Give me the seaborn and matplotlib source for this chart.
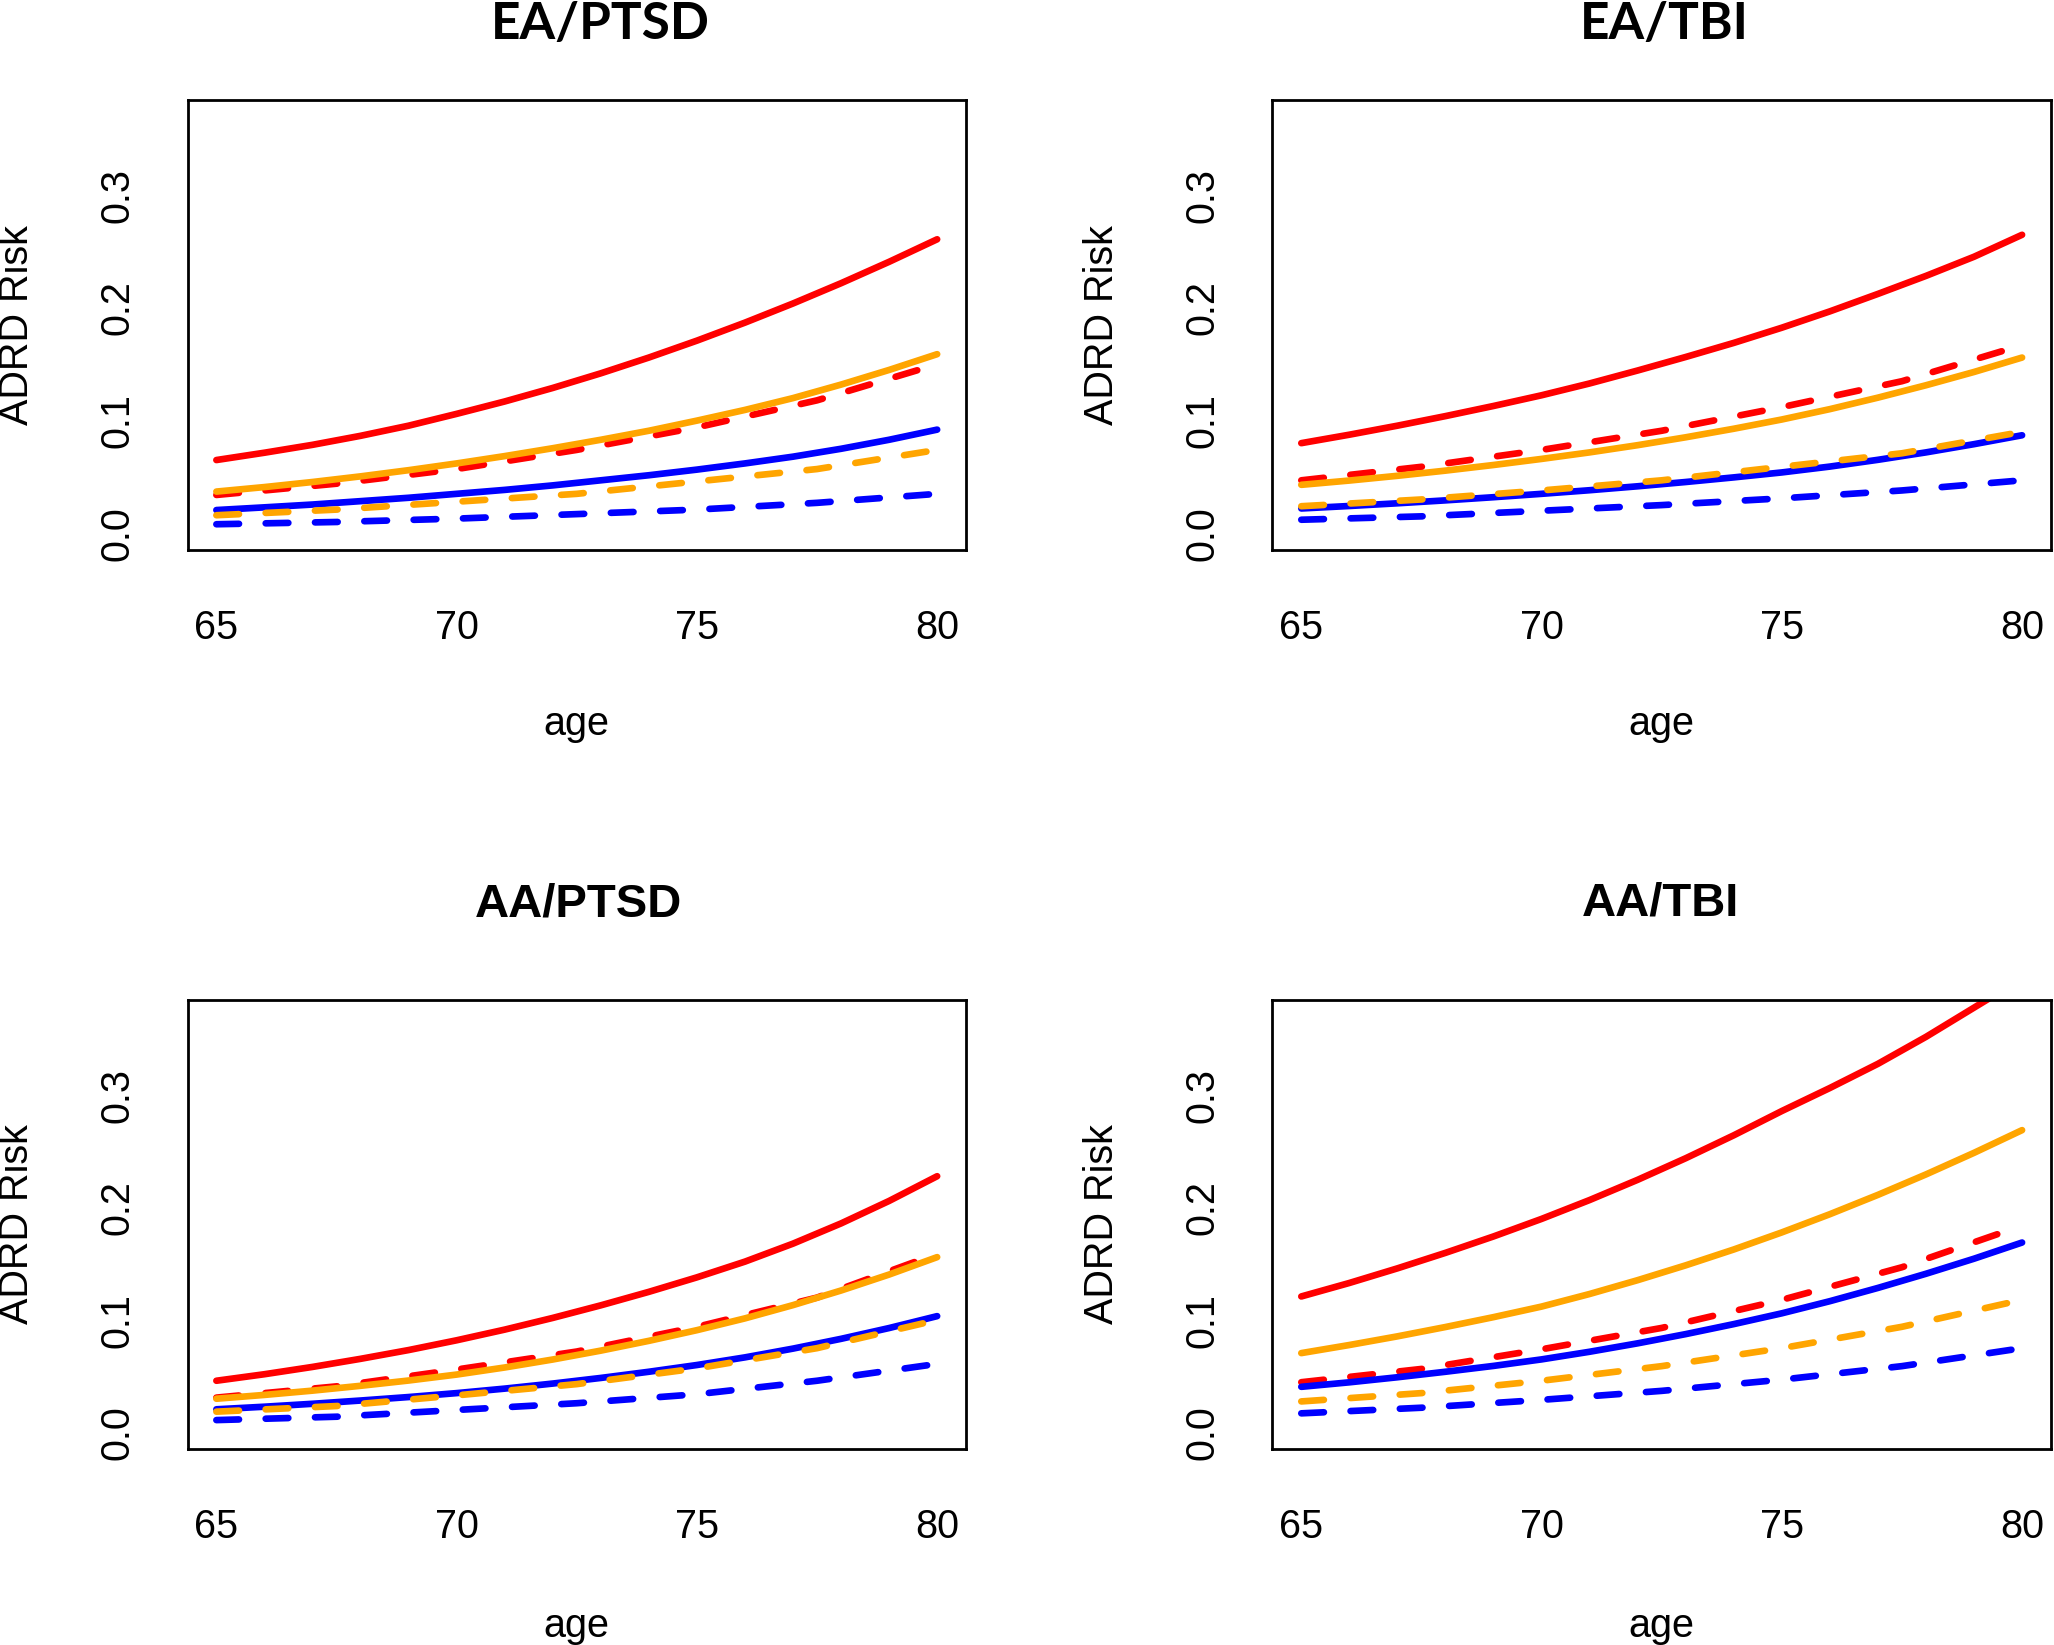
import matplotlib
matplotlib.use("Agg")
import matplotlib.pyplot as plt
import seaborn as sns

# solid curves were read every year, dashed ones every 2.5 years
AGES_YEARLY = list(range(65, 81))
AGES = [65, 67.5, 70, 72.5, 75, 77.5, 80]

# EA/PTSD
ea_ptsd_red = [0.065, 0.0715, 0.0785, 0.0865, 0.0955, 0.106, 0.117, 0.129, 0.142, 0.156,
               0.171, 0.187, 0.204, 0.222, 0.241, 0.261]
ea_ptsd_orange = [0.037, 0.041, 0.0455, 0.0505, 0.056, 0.062, 0.0685, 0.0755, 0.083, 0.091,
                  0.100, 0.1095, 0.120, 0.132, 0.145, 0.159]
ea_ptsd_blue = [0.0206, 0.023, 0.0255, 0.0285, 0.0315, 0.035, 0.0385, 0.0425, 0.047, 0.0515,
                0.0565, 0.062, 0.068, 0.075, 0.083, 0.092]
ea_ptsd_red_dash = [0.034, 0.044, 0.057, 0.074, 0.094, 0.118, 0.150]
ea_ptsd_orange_dash = [0.016, 0.021, 0.028, 0.035, 0.046, 0.057, 0.074]
ea_ptsd_blue_dash = [0.008, 0.010, 0.013, 0.017, 0.021, 0.027, 0.035]

# EA/TBI
ea_tbi_red = [0.080, 0.0875, 0.0955, 0.104, 0.113, 0.1225, 0.133, 0.1445, 0.1565, 0.169,
              0.1825, 0.197, 0.2125, 0.2285, 0.2455, 0.265]
ea_tbi_orange = [0.043, 0.0468, 0.051, 0.0556, 0.0606, 0.066, 0.0718, 0.0782, 0.0852, 0.0928,
                 0.101, 0.1102, 0.1204, 0.1314, 0.1432, 0.156]
ea_tbi_blue = [0.022, 0.0242, 0.0266, 0.0292, 0.032, 0.035, 0.0382, 0.0417, 0.0455, 0.0496,
               0.054, 0.0592, 0.0652, 0.0718, 0.0791, 0.087]
ea_tbi_red_dash = [0.047, 0.059, 0.074, 0.091, 0.112, 0.135, 0.167]
ea_tbi_orange_dash = [0.024, 0.030, 0.038, 0.047, 0.059, 0.071, 0.090]
ea_tbi_blue_dash = [0.012, 0.015, 0.020, 0.025, 0.031, 0.038, 0.047]

# AA/PTSD
aa_ptsd_red = [0.046, 0.0518, 0.0583, 0.0655, 0.0733, 0.082, 0.0915, 0.1019, 0.1131, 0.1251,
               0.138, 0.152, 0.168, 0.186, 0.206, 0.228]
aa_ptsd_orange = [0.030, 0.0334, 0.0372, 0.0415, 0.0462, 0.0515, 0.0578, 0.0649, 0.0728, 0.0815,
                  0.091, 0.1015, 0.1133, 0.1263, 0.1405, 0.156]
aa_ptsd_blue = [0.0206, 0.0229, 0.0255, 0.0284, 0.0315, 0.035, 0.039, 0.0435, 0.0485, 0.054,
                0.060, 0.0668, 0.0746, 0.0833, 0.0929, 0.1035]
aa_ptsd_red_dash = [0.031, 0.041, 0.056, 0.072, 0.094, 0.120, 0.159]
aa_ptsd_orange_dash = [0.0185, 0.0235, 0.033, 0.043, 0.057, 0.075, 0.100]
aa_ptsd_blue_dash = [0.011, 0.014, 0.020, 0.026, 0.034, 0.046, 0.061]

# AA/TBI (red solid runs off the top of the panel)
aa_tbi_red = [0.121, 0.133, 0.146, 0.1598, 0.1744, 0.190, 0.2068, 0.2248, 0.244, 0.2644,
              0.286, 0.3065, 0.328, 0.352, 0.378, 0.404]
aa_tbi_orange = [0.0706, 0.0778, 0.0855, 0.0938, 0.1026, 0.112, 0.1232, 0.1355, 0.1487, 0.1628,
                 0.178, 0.1942, 0.2114, 0.2296, 0.2488, 0.269]
aa_tbi_blue = [0.0406, 0.0446, 0.0491, 0.054, 0.0592, 0.065, 0.0718, 0.0793, 0.0875, 0.0964,
               0.106, 0.1168, 0.1286, 0.1412, 0.1546, 0.169]
aa_tbi_red_dash = [0.0447, 0.0565, 0.074, 0.093, 0.118, 0.147, 0.184]
aa_tbi_orange_dash = [0.0276, 0.035, 0.046, 0.059, 0.075, 0.094, 0.118]
aa_tbi_blue_dash = [0.017, 0.022, 0.029, 0.037, 0.047, 0.059, 0.075]

TITLES = ['EA/PTSD', 'EA/TBI', 'AA/PTSD', 'AA/TBI']
X_TICKS = [65, 70, 75, 80]
Y_TICKS = [0.0, 0.1, 0.2, 0.3]
Y_TICK_LABELS = ['0.0', '0.1', '0.2', '0.3']

RED = '#FF0000'
ORANGE = '#FFA500'
BLUE = '#0000FF'
DASH = (0, (3.4, 4.0))
LW = 4.8


def draw_panel(ax, series, title, title_xy, title_font, xlabel_y):
    # order matters: orange lines sit on top of the red dashed / blue ones
    for ages, vals, color, ls in series:
        sns.lineplot(x=ages, y=vals, ax=ax, color=color, linewidth=LW,
                     linestyle=ls, solid_capstyle='round', dash_capstyle='round')
    ax.set_xlim(64.4, 80.6)
    ax.set_ylim(-0.0148, 0.3848)
    ax.set_xticks(X_TICKS)
    ax.set_xticklabels([str(t) for t in X_TICKS])
    ax.set_yticks(Y_TICKS)
    ax.set_yticklabels(Y_TICK_LABELS, rotation=90, va='center')
    ax.tick_params(direction='out', length=18, width=2, labelsize=28.5, colors='black')
    ax.tick_params(axis='x', pad=24.5)
    ax.tick_params(axis='y', pad=19)
    for sp in ax.spines.values():
        sp.set_visible(True)
        sp.set_color('black')
        sp.set_linewidth(2)
    ax.set_xlabel('age', fontsize=28.5, color='black')
    ax.xaxis.label.set_va('center')
    ax.xaxis.set_label_coords(0.5, xlabel_y)
    ax.set_ylabel('ADRD Risk', fontsize=28.5, color='black')
    ax.yaxis.label.set_va('center')
    ax.yaxis.set_label_coords(-0.219, 0.5)
    ax.text(title_xy[0], title_xy[1], title, transform=ax.transAxes, color='black',
            ha='center', va='center', fontweight='bold', **title_font)


def main():
    sns.set_style('white')
    plt.rcParams['font.family'] = ['Liberation Sans', 'DejaVu Sans']
    plt.rcParams['text.color'] = 'black'
    plt.rcParams['axes.labelcolor'] = 'black'

    fig = plt.figure(figsize=(20.54, 16.45), dpi=100)
    positions = [[0.0913, 0.6657, 0.379, 0.2736],
                 [0.6195, 0.6657, 0.379, 0.2736],
                 [0.0913, 0.1191, 0.379, 0.2730],
                 [0.6195, 0.1191, 0.379, 0.2730]]
    Y = AGES_YEARLY
    all_series = [
        [(Y, ea_ptsd_red, RED, '-'), (AGES, ea_ptsd_red_dash, RED, DASH),
         (Y, ea_ptsd_blue, BLUE, '-'), (AGES, ea_ptsd_blue_dash, BLUE, DASH),
         (Y, ea_ptsd_orange, ORANGE, '-'), (AGES, ea_ptsd_orange_dash, ORANGE, DASH)],
        [(Y, ea_tbi_red, RED, '-'), (AGES, ea_tbi_red_dash, RED, DASH),
         (Y, ea_tbi_blue, BLUE, '-'), (AGES, ea_tbi_blue_dash, BLUE, DASH),
         (Y, ea_tbi_orange, ORANGE, '-'), (AGES, ea_tbi_orange_dash, ORANGE, DASH)],
        [(Y, aa_ptsd_red, RED, '-'), (AGES, aa_ptsd_red_dash, RED, DASH),
         (Y, aa_ptsd_blue, BLUE, '-'), (AGES, aa_ptsd_blue_dash, BLUE, DASH),
         (Y, aa_ptsd_orange, ORANGE, '-'), (AGES, aa_ptsd_orange_dash, ORANGE, DASH)],
        [(Y, aa_tbi_red, RED, '-'), (AGES, aa_tbi_red_dash, RED, DASH),
         (Y, aa_tbi_blue, BLUE, '-'), (AGES, aa_tbi_blue_dash, BLUE, DASH),
         (Y, aa_tbi_orange, ORANGE, '-'), (AGES, aa_tbi_orange_dash, ORANGE, DASH)],
    ]
    title_pos = [(0.530, 1.167), (0.503, 1.167), (0.502, 1.212), (0.499, 1.214)]
    title_fonts = [dict(family=['Lato', 'DejaVu Sans'], fontsize=37),
                   dict(family=['Lato', 'DejaVu Sans'], fontsize=37),
                   dict(fontsize=34), dict(fontsize=34)]
    xlabel_ys = [-0.386, -0.386, -0.393, -0.393]

    for i in range(4):
        ax = fig.add_axes(positions[i])
        draw_panel(ax, all_series[i], TITLES[i], title_pos[i], title_fonts[i], xlabel_ys[i])

    fig.savefig('out.png', dpi=100)
    plt.close()


main()
